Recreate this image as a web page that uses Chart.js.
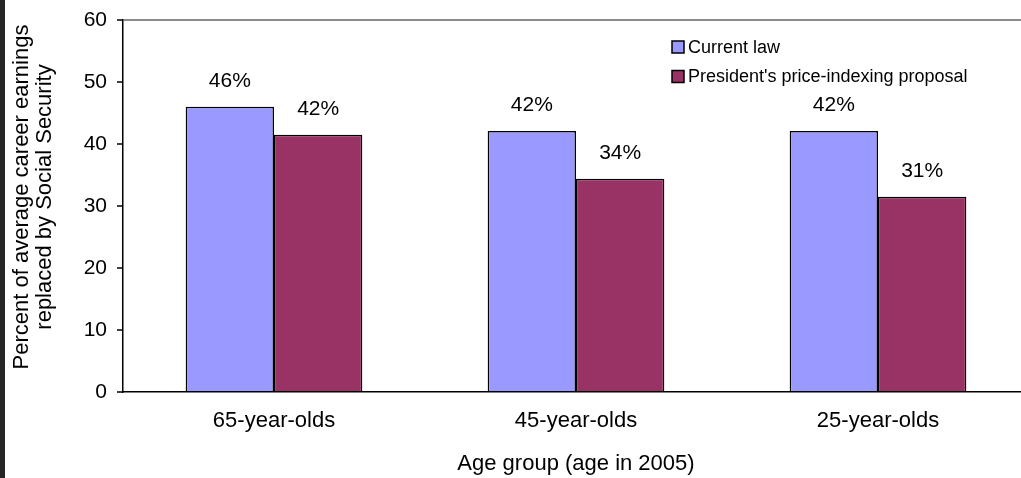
<!DOCTYPE html>
<html>
<head>
<meta charset="utf-8">
<script src="https://cdn.jsdelivr.net/npm/chart.js@4"></script>
<style>
    body { margin: 0; background: #fff; }
    #wrap { position: relative; width: 1021px; height: 478px; overflow: hidden; background: #fff; }
    #strip { position: absolute; left: 0; top: 0; width: 5px; height: 478px; background: #262626; }
</style>
</head>
<body>
<div id="wrap">
    <canvas id="chart" width="1030" height="478"></canvas>
    <div id="strip"></div>
</div>
<script>
const categories = ['65-year-olds', '45-year-olds', '25-year-olds'];
const seriesNames = ['Current law', "President's price-indexing proposal"];
const currentLaw = [46.0, 42.1, 42.1];
const proposal = [41.5, 34.4, 31.5];
const currentLawLabels = ['46%', '42%', '42%'];
const proposalLabels = ['42%', '34%', '31%'];
const yTicks = [0, 10, 20, 30, 40, 50, 60];
const yTitle = ['Percent of average career earnings', 'replaced by Social Security'];

const FONT = 'Liberation Sans, Arial, sans-serif';

// percent labels above each bar
const barLabels = {
    id: 'barLabels',
    afterDatasetsDraw(chart) {
        const ctx = chart.ctx;
        const texts = [currentLawLabels, proposalLabels];
        ctx.save();
        ctx.font = '21px ' + FONT;
        ctx.fillStyle = '#000';
        ctx.textAlign = 'center';
        ctx.textBaseline = 'alphabetic';
        chart.data.datasets.forEach((ds, di) => {
            chart.getDatasetMeta(di).data.forEach((bar, i) => {
                ctx.fillText(texts[di][i], bar.x, bar.y - 20);
            });
        });
        ctx.restore();
    }
};

// legend inside the plot, top right
const boxLegend = {
    id: 'boxLegend',
    afterDraw(chart) {
        const ctx = chart.ctx;
        ctx.save();
        ctx.font = '18px ' + FONT;
        ctx.textBaseline = 'middle';
        chart.data.datasets.forEach((ds, i) => {
            const y = 47 + i * 29.5;
            ctx.fillStyle = ds.backgroundColor;
            ctx.fillRect(672, y - 6, 12, 12);
            ctx.strokeStyle = '#000';
            ctx.lineWidth = 1.5;
            ctx.strokeRect(672, y - 6, 12, 12);
            ctx.fillStyle = '#000';
            ctx.fillText(ds.label, 688, y + 1);
        });
        ctx.restore();
    }
};

// two-line y title, sits a little above the middle of the axis
const yAxisTitle = {
    id: 'yAxisTitle',
    afterDraw(chart) {
        const ctx = chart.ctx;
        ctx.save();
        ctx.font = '22px ' + FONT;
        ctx.fillStyle = '#000';
        ctx.textAlign = 'center';
        ctx.textBaseline = 'middle';
        yTitle.forEach((line, i) => {
            ctx.save();
            ctx.translate(22 + i * 23, 197);
            ctx.rotate(-Math.PI / 2);
            ctx.fillText(line, 0, 0);
            ctx.restore();
        });
        ctx.restore();
    }
};

new Chart(document.getElementById('chart'), {
    type: 'bar',
    data: {
        labels: categories,
        datasets: [
            { label: seriesNames[0], data: currentLaw, backgroundColor: '#9999FF', borderColor: '#000', borderWidth: 1.5 },
            { label: seriesNames[1], data: proposal, backgroundColor: '#993366', borderColor: '#000', borderWidth: 1.5 }
        ]
    },
    options: {
        responsive: false,
        animation: false,
        layout: { padding: { top: 20, right: 1, left: 0, bottom: 0 } },
        datasets: { bar: { categoryPercentage: 0.585, barPercentage: 1 } },
        plugins: { legend: { display: false }, tooltip: { enabled: false } },
        scales: {
            x: {
                grid: { display: false, drawTicks: false },
                border: { color: '#000', width: 1.5 },
                ticks: { color: '#000', font: { family: FONT, size: 22 }, padding: 16 },
                title: {
                    display: true, text: 'Age group (age in 2005)', color: '#000',
                    font: { family: FONT, size: 22 }, padding: { top: 0, bottom: 1 }
                },
                afterFit(scale) { scale.height = 86; }
            },
            y: {
                min: 0, max: 60,
                afterBuildTicks(scale) { scale.ticks = yTicks.map(v => ({ value: v })); },
                grid: {
                    color: c => (c.tick && c.tick.value === 60 ? '#8c8c8c' : 'rgba(0,0,0,0)'),
                    lineWidth: 2,
                    tickColor: '#000',
                    tickLength: 6,
                    tickWidth: 1.5
                },
                border: { color: '#000', width: 1.5 },
                ticks: { color: '#000', font: { family: FONT, size: 21 }, padding: 10 },
                afterFit(scale) {
                    scale.width = 123;
                    scale.paddingTop = 0;
                    scale.paddingBottom = 0;
                }
            }
        }
    },
    plugins: [barLabels, boxLegend, yAxisTitle]
});
</script>
</body>
</html>
